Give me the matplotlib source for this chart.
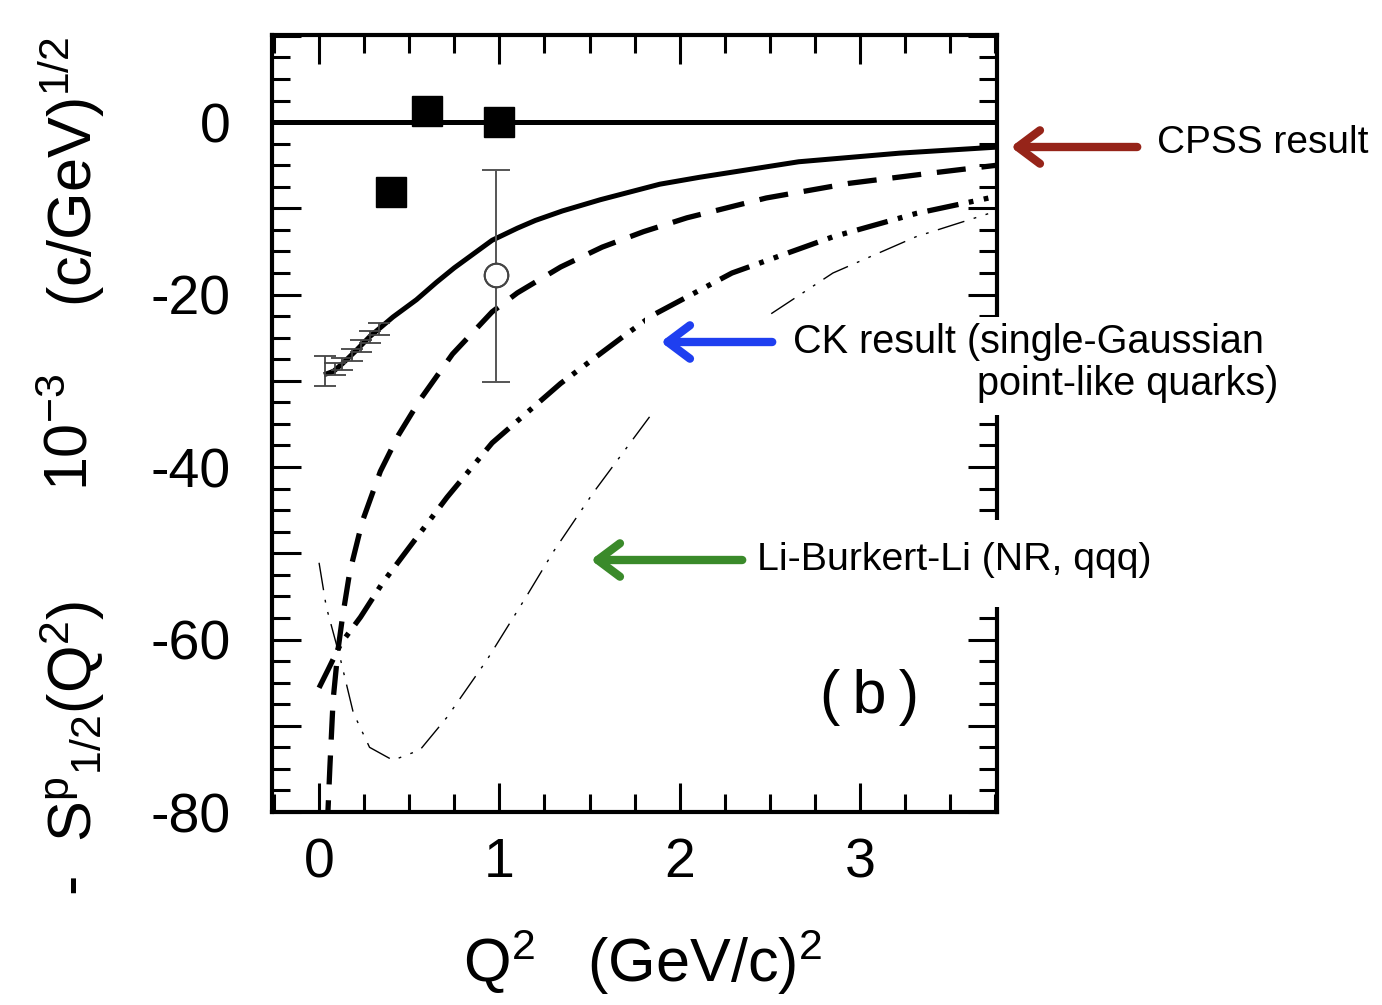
import numpy as np
import matplotlib
matplotlib.use("Agg")
import matplotlib.pyplot as plt
from matplotlib.ticker import MultipleLocator, FuncFormatter
from matplotlib.patches import Rectangle, FancyArrowPatch

plt.rcParams['font.family'] = ['Liberation Sans', 'DejaVu Sans']
plt.rcParams['mathtext.fontset'] = 'custom'
plt.rcParams['mathtext.rm'] = 'Liberation Sans'
plt.rcParams['mathtext.it'] = 'Liberation Sans'
plt.rcParams['mathtext.default'] = 'regular'

# solid curve (CPSS result)
cpss_q2 = [0.04, 0.08, 0.13, 0.20, 0.28, 0.41, 0.54, 0.65, 0.75, 0.96, 1.10, 1.20, 1.35, 1.56, 1.89, 2.11, 2.66, 3.22, 3.76]
cpss_s = [-29.2, -28.9, -28.0, -26.6, -24.9, -22.6, -20.6, -18.6, -16.9, -13.7, -12.3, -11.4, -10.3, -9.0, -7.2, -6.4, -4.6, -3.6, -2.9]

# thick dashed curve
dash_q2 = [0.045, 0.06, 0.078, 0.105, 0.13, 0.17, 0.24, 0.34, 0.44, 0.56, 0.74, 0.96, 1.10, 1.34, 1.57, 1.80, 2.04, 2.48, 2.94, 3.40, 3.76]
dash_s = [-82.0, -74.8, -67.0, -61.2, -57.4, -52.2, -46.3, -40.5, -36.3, -32.2, -26.9, -22.0, -19.8, -16.8, -14.5, -12.7, -11.1, -8.8, -7.1, -5.9, -5.0]

# thick dash-dot-dot curve (CK result)
ck_q2 = [0.0, 0.05, 0.12, 0.23, 0.35, 0.49, 0.71, 0.96, 1.34, 1.71, 1.85, 2.29, 2.85, 3.31, 3.76]
ck_s = [-65.6, -63.5, -60.5, -57.4, -53.5, -49.6, -43.5, -37.2, -30.3, -24.5, -22.4, -17.5, -13.3, -10.6, -8.6]

# thin dash-dot-dot curve (Li-Burkert-Li)
lbl_q2 = [0.0, 0.04, 0.12, 0.19, 0.28, 0.41, 0.56, 0.71, 0.93, 1.15, 1.30, 1.52, 1.85, 2.48, 2.85, 3.31, 3.76]
lbl_s = [-51.1, -56.2, -62.4, -68.5, -72.5, -74.0, -72.8, -69.0, -62.4, -55.0, -49.8, -43.0, -33.7, -22.6, -17.5, -13.3, -10.3]

# data points
sq_q2 = [0.40, 0.60, 1.00]
sq_s = [-8.1, 1.3, 0.0]
circ_q2 = [0.98]
circ_s = [-17.7]
circ_err_lo = [12.4]
circ_err_hi = [12.1]
low_q2 = [0.033, 0.09, 0.13, 0.18, 0.23, 0.28, 0.33]
low_s = [-28.9, -28.6, -28.0, -27.0, -26.0, -24.9, -24.0]
low_err = [1.75, 0.7, 0.7, 0.7, 0.7, 0.7, 0.7]

W, H = 1382, 1005
fig = plt.figure(figsize=(W / 100, H / 100), dpi=100)
ax = fig.add_axes([272 / W, (H - 812) / H, 725 / W, 777 / H])

ax.axhline(0, color='black', lw=3.6, zorder=2)
ax.plot(cpss_q2, cpss_s, color='black', lw=3.6, solid_joinstyle='round')
ax.plot(dash_q2, dash_s, color='black', lw=3.8, dashes=(5.5, 3))
ax.plot(ck_q2, ck_s, color='black', lw=3.8, dashes=(6, 2, 0.9, 2, 0.9, 2))
ax.plot(lbl_q2, lbl_s, color='black', lw=1.0, dashes=(20, 7, 2, 7, 2, 7))

ax.errorbar(low_q2, low_s, yerr=low_err, fmt='none', ecolor='#444444', elinewidth=1.3, capsize=8, capthick=1.3)
ax.errorbar(circ_q2, circ_s, yerr=[circ_err_lo, circ_err_hi], fmt='o', mfc='white', mec='#444444',
            mew=1.4, ms=17, ecolor='#555555', elinewidth=1.4, capsize=10, capthick=1.4, zorder=3)
ax.plot(circ_q2, circ_s, 'o', mfc='none', mec='#444444', mew=1.4, ms=17, zorder=4)
ax.plot(sq_q2, sq_s, 's', color='black', ms=21, zorder=5)

ax.set_xlim(-0.261, 3.76)
ax.set_ylim(-80, 10.1)
ax.xaxis.set_major_locator(MultipleLocator(1))
ax.xaxis.set_minor_locator(MultipleLocator(0.25))
ax.yaxis.set_major_locator(MultipleLocator(10))
ax.yaxis.set_minor_locator(MultipleLocator(2.5))
ax.yaxis.set_major_formatter(FuncFormatter(lambda v, p: '%d' % v if abs(v % 20) < 1e-6 else ''))
ax.tick_params(which='both', direction='in', top=True, right=True, width=2.2, labelsize=40)
ax.tick_params(which='major', length=21)
ax.tick_params(which='minor', length=13)
ax.tick_params(axis='x', pad=18)
ax.tick_params(axis='y', pad=30)
for s in ax.spines.values():
    s.set_linewidth(3)

# y label in three pieces
fig.text(72 / W, 1 - 748 / H, r'-  $S^{p}{}_{1/2}(Q^{2})$', rotation=90, ha='center', va='center', fontsize=44)
fig.text(72 / W, 1 - 432 / H, r'$10^{-3}$', rotation=90, ha='center', va='center', fontsize=44)
fig.text(72 / W, 1 - 172 / H, r'$(c/GeV)^{1/2}$', rotation=90, ha='center', va='center', fontsize=44)
fig.text(643 / W, 1 - 962 / H, r'$Q^{2}\ \ \ (GeV/c)^{2}$', ha='center', va='center', fontsize=44)

# white label backgrounds covering parts of the frame
for x0, y0, x1, y1 in [(645, 317, 1285, 415), (588, 520, 1155, 607)]:
    fig.add_artist(Rectangle((x0 / W, 1 - y1 / H), (x1 - x0) / W, (y1 - y0) / H,
                             transform=fig.transFigure, facecolor='white', edgecolor='none', zorder=5))

arrows = [((1140, 147), (1008, 147), '#962419'),
          ((775, 342), (658, 342), '#1f3ff0'),
          ((745, 560), (588, 560), '#3a8a2a')]
for (tx, ty), (hx, hy), c in arrows:
    fig.add_artist(FancyArrowPatch((tx / W, 1 - ty / H), (hx / W, 1 - hy / H), transform=fig.transFigure,
                                   arrowstyle='->,head_length=0.8,head_width=0.6', color=c, lw=6,
                                   mutation_scale=20, zorder=10))

fig.text(1157 / W, 1 - 143 / H, 'CPSS result', fontsize=28, ha='left', va='center', zorder=10)
fig.text(793 / W, 1 - 342 / H, 'CK result (single-Gaussian', fontsize=28.5, ha='left', va='center', zorder=10)
fig.text(977 / W, 1 - 384 / H, 'point-like quarks)', fontsize=28.5, ha='left', va='center', zorder=10)
fig.text(757 / W, 1 - 560 / H, 'Li-Burkert-Li (NR, qqq)', fontsize=28.3, ha='left', va='center', zorder=10)
fig.text(870 / W, 1 - 697 / H, '(\u2009b\u2009)', fontsize=44, ha='center', va='center', zorder=10)

fig.savefig('out.png', dpi=100)
